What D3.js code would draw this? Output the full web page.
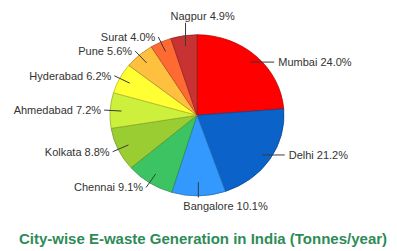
<!DOCTYPE html>
<html><head><meta charset="utf-8">
<script src="https://cdn.jsdelivr.net/npm/d3@7/dist/d3.min.js"></script>
<style>
html,body{margin:0;padding:0;background:#fff;}
svg{display:block;}
</style></head>
<body>
<svg id="c" width="397" height="251"></svg>
<script>
const cities = ["Mumbai","Delhi","Bangalore","Chennai","Kolkata","Ahmedabad","Hyderabad","Pune","Surat","Nagpur"];
const shares = [24.0,21.2,10.1,9.1,8.8,7.2,6.2,5.6,4.0,4.9];
const colors = ["#ff0000","#0b63c9","#3399ff","#3cc463","#9acd32","#cdf03c","#ffff33","#ffc040","#ff6a33","#c83232"];
const title = "City-wise E-waste Generation in India (Tonnes/year)";

const W = 397, H = 251;
const cx = 197, cy = 115.3, rx = 87, ry = 80.5;
const svg = d3.select("#c");

const pie = d3.pie().sort(null).value(d => d.v);
const data = pie(cities.map((c,i)=>({c, v: shares[i], col: colors[i]})));
const arc = d3.arc().innerRadius(0).outerRadius(rx);

const g = svg.append("g").attr("transform",`translate(${cx},${cy}) scale(1,${ry/rx})`);
g.selectAll("path").data(data).join("path")
  .attr("d", arc)
  .attr("fill", d => d.data.col)
  .attr("stroke", d => d3.color(d.data.col).darker(0.9))
  .attr("stroke-width", 0.8)
  .attr("vector-effect","non-scaling-stroke");

function pt(a, k){ return [cx + Math.sin(a)*rx*k, cy - Math.cos(a)*ry*k]; }
const lab = svg.append("g").attr("font-family","Liberation Sans, Arial, sans-serif").attr("font-size","11px").attr("fill","#333");

data.forEach(d => {
  const a = (d.startAngle + d.endAngle)/2;
  const s = Math.sin(a), c = Math.cos(a);
  let p0 = pt(a, 0.87);
  let p1, tx, ty, anchor;
  if (Math.abs(s) < 0.2) {
    // top / bottom: vertical leader
    if (c > 0) {
      p1 = [p0[0], cy - ry*1.15];
      ty = p1[1] - 3;
    } else {
      p0 = pt(a, 0.83);
      p1 = [p0[0], cy + ry*1.02];
      ty = p1[1] + 13;
    }
    tx = p1[0] - 15; anchor = "start";
  } else if (s > 0) {
    // right side: horizontal leader
    p0 = pt(a, 0.9);
    const ny = (p0[1]-cy)/ry;
    const ex = cx + rx*Math.sqrt(Math.max(0,1-ny*ny));
    p1 = [ex + 12, p0[1]];
    tx = p1[0] + 4; ty = p1[1] + 4; anchor = "start";
  } else {
    p1 = pt(a, 1.07);
    tx = p1[0] - 3; ty = p1[1] + 4; anchor = "end";
  }
  lab.append("line").attr("x1",p0[0]).attr("y1",p0[1]).attr("x2",p1[0]).attr("y2",p1[1])
    .attr("stroke","#3a3a3a").attr("stroke-width",1);
  lab.append("text").attr("x",tx).attr("y",ty).attr("text-anchor",anchor)
    .text(`${d.data.c} ${d.data.v.toFixed(1)}%`);
});

svg.append("text").attr("x", 203).attr("y", 244).attr("text-anchor","middle")
  .attr("font-family","Liberation Sans, Arial, sans-serif").attr("font-weight","bold")
  .attr("font-size","15px").attr("fill","#2e8b57").text(title);
</script>
</body></html>
